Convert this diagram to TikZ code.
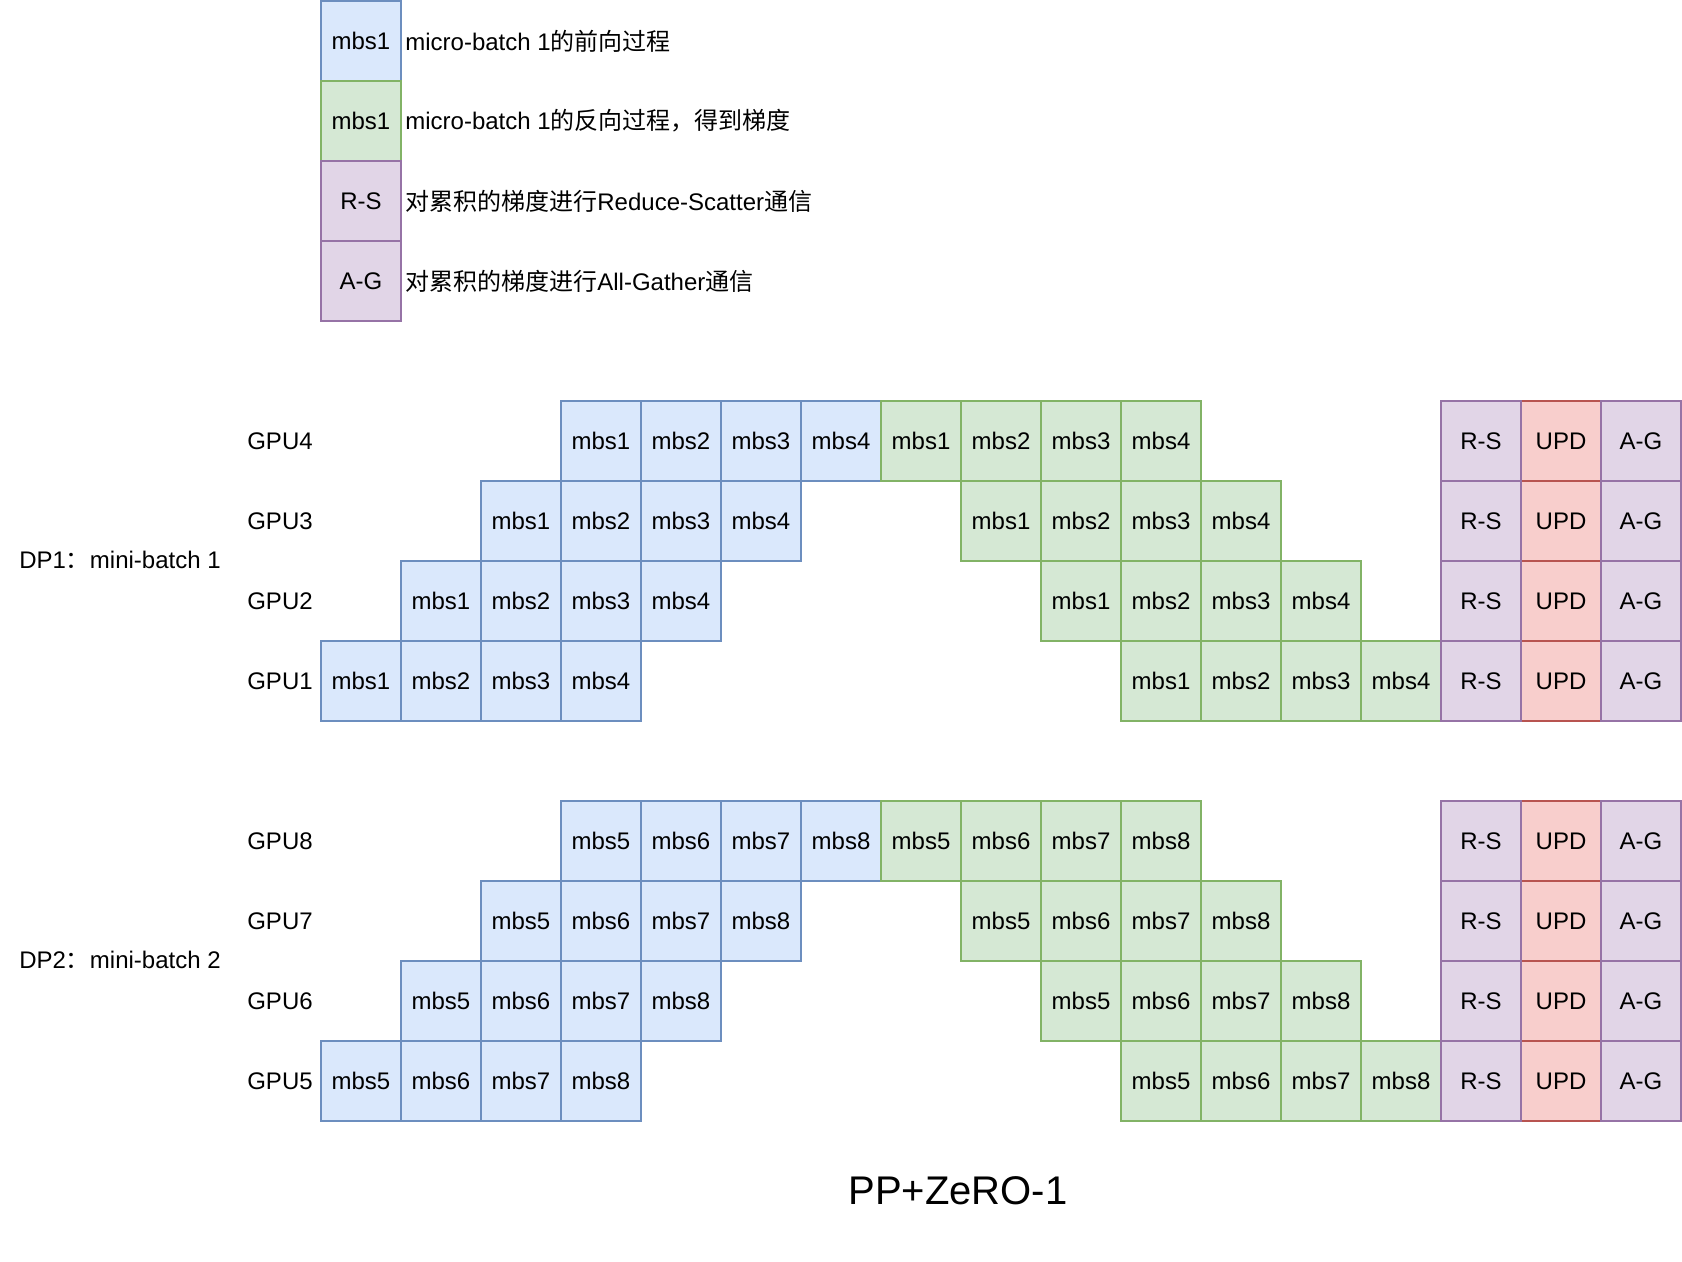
\documentclass[tikz,border=0pt]{standalone}
\usepackage{fontspec}
\setmainfont{Liberation Sans}
\newfontfamily\cjk{Noto Sans CJK SC}
\newcommand{\zh}[1]{{\cjk #1}}
\usepackage{xcolor}
\usetikzlibrary{positioning}
\definecolor{fwdfill}{HTML}{DAE8FC}
\definecolor{fwdline}{HTML}{6C8EBF}
\definecolor{bwdfill}{HTML}{D5E8D4}
\definecolor{bwdline}{HTML}{82B366}
\definecolor{commfill}{HTML}{E1D5E7}
\definecolor{commline}{HTML}{9673A6}
\definecolor{updfill}{HTML}{F8CECC}
\definecolor{updline}{HTML}{B85450}

\begin{document}
\begin{tikzpicture}[
        x=0.5pt, y=-0.5pt, font=\fontsize{12}{14}\selectfont,
        cell/.style={rectangle, draw, line width=1pt, minimum width=40pt, minimum height=40pt, inner sep=0pt, outer sep=0pt},
        fwd/.style={cell, fill=fwdfill, draw=fwdline},
        bwd/.style={cell, fill=bwdfill, draw=bwdline},
        comm/.style={cell, fill=commfill, draw=commline},
        upd/.style={cell, fill=updfill, draw=updline},
        legtext/.style={inner sep=0pt, anchor=west}
    ]
        \useasboundingbox (0,0) rectangle (1682,1262);
        % legend
        \node[fwd] (legf) at (361,41) {mbs1};
        \node[bwd, below=0pt of legf] (legb) {mbs1};
        \node[comm, below=0pt of legb] (legrs) {R-S};
        \node[comm, below=0pt of legrs] (legag) {A-G};
        \node[legtext, right=2pt of legf] (txtf) {micro-batch 1\zh{的前向过程}};
        \node[legtext, right=2pt of legb] (txtb) {micro-batch 1\zh{的反向过程，得到梯度}};
        \node[legtext, right=2pt of legrs] (txtrs) {\zh{对累积的梯度进行}Reduce-Scatter\zh{通信}};
        \node[legtext, right=2pt of legag] (txtag) {\zh{对累积的梯度进行}All-Gather\zh{通信}};
        % pipeline schedule, one block per data-parallel group
        \foreach \dp/\top in {1/401, 2/801} {
            \foreach \r in {1,...,4} {
                \pgfmathtruncatemacro{\g}{\r+4*(\dp-1)}
                \pgfmathsetmacro{\yc}{\top+(4-\r)*80+40}
                \node (gpu\g) at (280,\yc) {GPU\g};
                \foreach \m in {1,...,4} {
                    \pgfmathtruncatemacro{\mb}{\m+4*(\dp-1)}
                    \node[fwd] (f\g-\m) at ({321+(\r+\m-2)*80+40},\yc) {mbs\mb};
                }
                \foreach \m in {1,...,4} {
                    \pgfmathtruncatemacro{\mb}{\m+4*(\dp-1)}
                    \node[bwd] (b\g-\m) at ({321+(10-\r+\m)*80+40},\yc) {mbs\mb};
                }
                \node[upd] (upd\g) at (1561,\yc) {UPD};
                \node[comm] (rs\g) at (1481,\yc) {R-S};
                \node[comm] (ag\g) at (1641,\yc) {A-G};
            }
        }
        \node (dp1) at (120,560) {DP1\zh{：}mini-batch 1};
        \node (dp2) at (120,960) {DP2\zh{：}mini-batch 2};
        \node[font=\fontsize{20}{24}\selectfont] (title) at (958,1191) {PP+ZeRO-1};
    \end{tikzpicture}
\end{document}
